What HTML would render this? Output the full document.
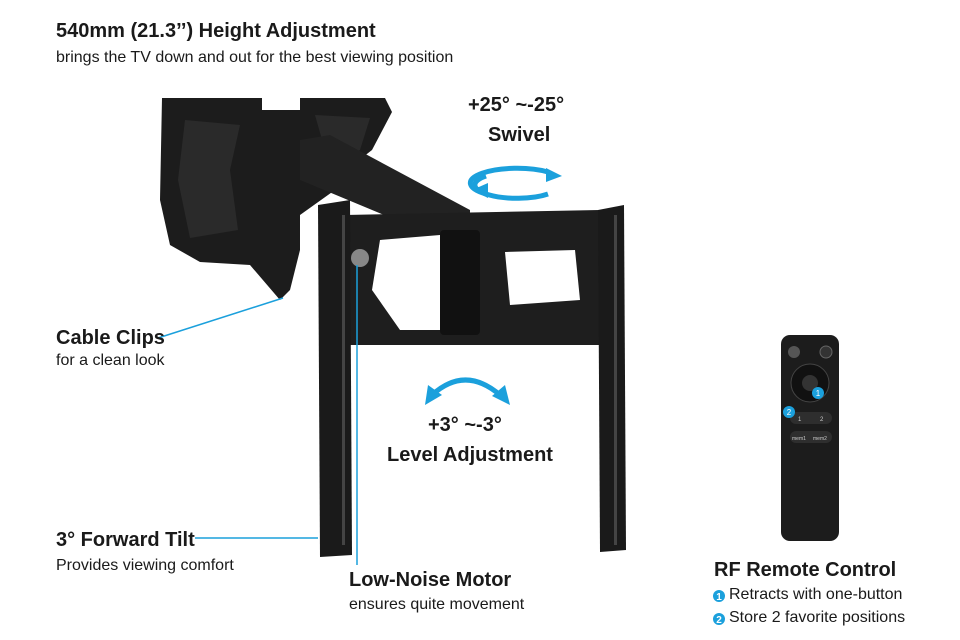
<!DOCTYPE html>
<html><head><meta charset="utf-8"><style>
body{margin:0;width:960px;height:640px;background:#fff;position:relative;overflow:hidden;font-family:"Liberation Sans",sans-serif;color:#1a1a1a}
.t{position:absolute;white-space:nowrap}
.b{font-weight:bold;font-size:20px}
.s{font-size:16px}
</style></head><body>
<svg width="960" height="640" style="position:absolute;left:0;top:0">
<!-- motor housing -->
<path d="M162 98 L262 98 L262 110 L300 110 L300 98 L385 98 L392 112 L372 150 L340 175 L335 190 L300 215 L300 250 L290 290 L280 300 L250 265 L200 262 L170 245 L160 200 Z" fill="#1c1c1c"/>
<path d="M185 120 L240 125 L230 170 L238 230 L190 238 L178 180 Z" fill="#2a2a2a"/>
<path d="M315 115 L370 118 L360 150 L330 168 Z" fill="#2a2a2a"/>
<!-- arm -->
<path d="M300 140 L330 135 L470 210 L470 245 L360 300 L320 310 L320 270 L420 230 L300 180 Z" fill="#222"/>
<!-- horizontal plate -->
<path d="M345 215 L600 210 L600 345 L345 345 Z" fill="#1e1e1e"/>
<path d="M380 240 L440 235 L470 270 L470 330 L400 330 L372 290 Z" fill="#fff"/>
<path d="M505 252 L575 250 L580 300 L510 305 Z" fill="#fff"/>
<rect x="440" y="230" width="40" height="105" rx="4" fill="#111"/>
<!-- vertical bars -->
<path d="M318 205 L350 200 L352 555 L320 557 Z" fill="#1a1a1a"/>
<path d="M598 210 L624 205 L626 550 L600 552 Z" fill="#1a1a1a"/>
<g fill="#444"><rect x="342" y="215" width="3" height="330"/><rect x="614" y="215" width="3" height="330"/></g>
<circle cx="360" cy="258" r="9" fill="#888"/>
<!-- blue arrows -->
<g fill="none" stroke="#1ba0dc" stroke-width="5">
<path d="M486 176 A38 12 0 0 0 548 194"/>
<path d="M548 172 A38 12 0 0 0 486 194"/>
<path d="M432 395 Q465 365 500 395"/>
</g>
<g fill="#1ba0dc">
<polygon points="472,190 488,183 488,198"/><polygon points="562,176 546,168 546,182"/>
<polygon points="425,405 428,385 442,395"/><polygon points="510,405 505,385 492,396"/>
</g>
<g stroke="#1ba0dc" stroke-width="1.5">
<line x1="158" y1="338" x2="283" y2="298"/>
<line x1="195" y1="538" x2="318" y2="538"/>
<line x1="357" y1="265" x2="357" y2="565"/>
</g>
<!-- remote -->
<rect x="781" y="335" width="58" height="206" rx="9" fill="#1c1c1c"/>
<circle cx="794" cy="352" r="6" fill="#555"/><circle cx="826" cy="352" r="6" fill="#333" stroke="#666"/>
<circle cx="810" cy="383" r="19" fill="#111" stroke="#444"/><circle cx="810" cy="383" r="8" fill="#333"/>
<rect x="790" y="412" width="42" height="12" rx="6" fill="#2e2e2e"/>
<rect x="790" y="431" width="42" height="12" rx="6" fill="#2e2e2e"/>
<circle cx="818" cy="393" r="6" fill="#1ba0dc"/><circle cx="789" cy="412" r="6" fill="#1ba0dc"/>
<text x="818" y="396" font-size="8" fill="#fff" text-anchor="middle" font-family="Liberation Sans">1</text>
<text x="789" y="415" font-size="8" fill="#fff" text-anchor="middle" font-family="Liberation Sans">2</text>
<text x="798" y="421" font-size="6" fill="#ccc">1</text><text x="820" y="421" font-size="6" fill="#ccc">2</text>
<text x="792" y="440" font-size="5" fill="#ccc">mem1</text><text x="813" y="440" font-size="5" fill="#ccc">mem2</text>
<circle cx="719" cy="596" r="6" fill="#1ba0dc"/><circle cx="719" cy="619" r="6" fill="#1ba0dc"/>
<text x="719" y="600" font-size="10" fill="#fff" text-anchor="middle" font-weight="bold" font-family="Liberation Sans">1</text>
<text x="719" y="623" font-size="10" fill="#fff" text-anchor="middle" font-weight="bold" font-family="Liberation Sans">2</text>
</svg>
<div class="t b" style="left:56px;top:20px">540mm (21.3’’) Height Adjustment</div>
<div class="t s" style="left:56px;top:49px">brings the TV down and out for the best viewing position</div>
<div class="t b" style="left:468px;top:94px">+25° ~-25°</div>
<div class="t b" style="left:488px;top:124px">Swivel</div>
<div class="t b" style="left:56px;top:327px">Cable Clips</div>
<div class="t s" style="left:56px;top:352px">for a clean look</div>
<div class="t b" style="left:428px;top:414px">+3° ~-3°</div>
<div class="t b" style="left:387px;top:444px">Level Adjustment</div>
<div class="t b" style="left:56px;top:529px">3° Forward Tilt</div>
<div class="t s" style="left:56px;top:557px">Provides viewing comfort</div>
<div class="t b" style="left:349px;top:569px">Low-Noise Motor</div>
<div class="t s" style="left:349px;top:596px">ensures quite movement</div>
<div class="t b" style="left:714px;top:559px">RF Remote Control</div>
<div class="t s" style="left:729px;top:586px">Retracts with one-button</div>
<div class="t s" style="left:729px;top:609px">Store 2 favorite positions</div>
</body></html>
